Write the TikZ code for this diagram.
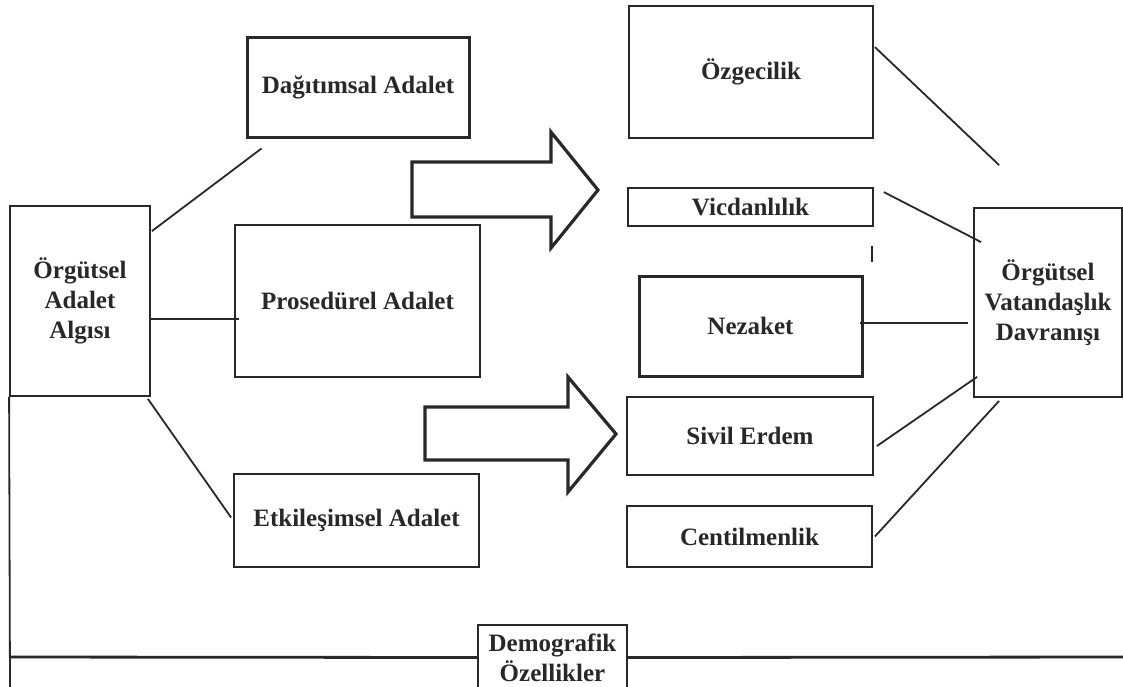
\documentclass[tikz,border=0pt]{standalone}
\usepackage{fontspec}
\setmainfont{Liberation Serif}
\usetikzlibrary{calc}
\definecolor{inkc}{RGB}{40,40,40}
\begin{document}
\begin{tikzpicture}[x=1pt,y=-1pt,
  box/.style={draw=inkc, line width=1.8pt, inner sep=0pt, align=center, text=inkc,
    font=\bfseries\fontsize{25}{30}\selectfont, anchor=center},
  thickbox/.style={box, line width=3pt},
  conn/.style={draw=inkc, line width=1.8pt},
  baseline/.style={draw=inkc, line width=2.8pt},
  bigarrow/.style={draw=inkc, line width=3.2pt, line join=miter, fill=white},
]
\useasboundingbox (0,0) rectangle (1123,686);
\clip (0,0) rectangle (1123,686);

% boxes
\node[box, minimum width=140pt, minimum height=190pt] (alg) at (80,301) {Örgütsel\\Adalet\\Algısı};
\node[thickbox, minimum width=222pt, minimum height=100pt] (dag) at (358,87) {Dağıtımsal Adalet};
\node[box, minimum width=245pt, minimum height=152pt] (pro) at (357.5,301) {Prosedürel Adalet};
\node[box, minimum width=245pt, minimum height=93pt] (etk) at (356.5,520.5) {Etkileşimsel Adalet};
\node[box, minimum width=244pt, minimum height=132pt] (ozg) at (751,72) {Özgecilik};
\node[box, minimum width=245pt, minimum height=38pt] (vic) at (750.5,207) {Vicdanlılık};
\node[thickbox, minimum width=223pt, minimum height=100pt] (nez) at (750.5,326) {Nezaket};
\node[box, minimum width=246pt, minimum height=78pt] (siv) at (750,436) {Sivil Erdem};
\node[box, minimum width=245pt, minimum height=61pt] (cen) at (749.5,536.5) {Centilmenlik};
\node[box, minimum width=148pt, minimum height=189pt] (ovd) at (1048,302.5) {Örgütsel\\Vatandaşlık\\Davranışı};
\node[box, minimum width=149pt, minimum height=65pt] (dem) at (552.5,657.5) {Demografik\\Özellikler};

% block arrows
\draw[bigarrow] (412,162) -- (551,162) -- (551,132) -- (598,190) -- (551,248) -- (551,217) -- (412,217) -- cycle;
\draw[bigarrow] (425,407) -- (568,407) -- (568,377) -- (616,434) -- (568,492) -- (568,460) -- (425,460) -- cycle;

% left side connectors
\draw[conn] ($(alg.north east)+(1,26)$) -- ($(dag.south west)+(16,10)$);
\draw[conn] ($(alg.east)+(0,18)$) -- ($(pro.west)+(5,18)$);
\draw[conn] ($(alg.south east)+(-3,2)$) -- ($(etk.west)+(-2,-3)$);

% right side connectors
\draw[conn] ($(ozg.north east)+(1,42)$) -- ($(ovd.north west)+(26,-42)$);
\draw[conn] ($(vic.north east)+(10,5)$) -- ($(ovd.north west)+(8,35)$);
\draw[conn] ($(nez.east)+(-4,-3)$) -- ($(ovd.west)+(-5,20.5)$);
\draw[conn] ($(siv.east)+(3,10)$) -- ($(ovd.south west)+(4,-21)$);
\draw[conn] ($(cen.east)+(2,0)$) -- ($(ovd.south west)+(26,3)$);

% small tick
\draw[draw=inkc, line width=2.8pt] (872,246) -- (872,262);

% left frame line and demographic baseline
\draw[conn] (alg.south west) -- (10,690);
\draw[baseline] (10,657) -- (dem.west);
\draw[baseline] (dem.east) -- (1125,657);
\end{tikzpicture}
\end{document}
